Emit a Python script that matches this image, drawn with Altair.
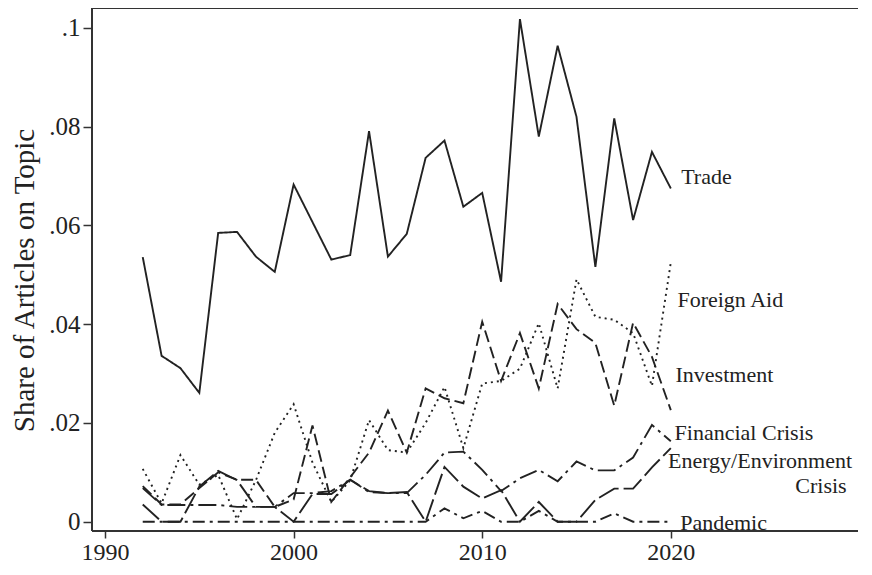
import altair as alt
import pandas as pd

years = list(range(1992, 2021))

trade = [0.0536, 0.0336, 0.0311, 0.0261, 0.0585, 0.0587, 0.0537, 0.0506, 0.0683, 0.0607,
         0.0531, 0.0540, 0.0791, 0.0537, 0.0583, 0.0737, 0.0772, 0.0638, 0.0666, 0.0486,
         0.1018, 0.0780, 0.0964, 0.0820, 0.0516, 0.0817, 0.0611, 0.0749, 0.0675]
foreign_aid = [0.0107, 0.0037, 0.0135, 0.0075, 0.0095, 0.0005, 0.0084, 0.0180, 0.0238, 0.0120,
               0.0040, 0.0084, 0.0206, 0.0145, 0.0140, 0.0200, 0.0273, 0.0149, 0.0280, 0.0285,
               0.0310, 0.0402, 0.0270, 0.0491, 0.0415, 0.0409, 0.0382, 0.0275, 0.0525]
investment = [0.0072, 0.0035, 0.0035, 0.0068, 0.0100, 0.0085, 0.0085, 0.0030, 0.0045, 0.0195,
              0.0040, 0.0090, 0.0140, 0.0225, 0.0140, 0.0270, 0.0250, 0.0240, 0.0405, 0.0285,
              0.0382, 0.0270, 0.0441, 0.0390, 0.0362, 0.0235, 0.0403, 0.0334, 0.0226]
financial = [0.0068, 0.0034, 0.0034, 0.0034, 0.0034, 0.0030, 0.0030, 0.0030, 0.0058, 0.0058,
             0.0062, 0.0085, 0.0060, 0.0058, 0.0058, 0.0095, 0.0140, 0.0142, 0.0105, 0.0062,
             0.0088, 0.0105, 0.0082, 0.0122, 0.0104, 0.0104, 0.0130, 0.0196, 0.0163]
energy = [0.0035, 0.0000, 0.0000, 0.0071, 0.0103, 0.0084, 0.0030, 0.0030, 0.0000, 0.0056,
          0.0056, 0.0085, 0.0062, 0.0058, 0.0060, 0.0000, 0.0111, 0.0071, 0.0047, 0.0064,
          0.0000, 0.0040, 0.0000, 0.0000, 0.0044, 0.0067, 0.0067, 0.0110, 0.0149]
pandemic = [0.0, 0.0, 0.0, 0.0, 0.0, 0.0, 0.0, 0.0, 0.0, 0.0,
            0.0, 0.0, 0.0, 0.0, 0.0, 0.0, 0.0027, 0.0007, 0.0022, 0.0,
            0.0, 0.0022, 0.0, 0.0, 0.0, 0.0017, 0.0, 0.0, 0.0]

series_names = ["Trade", "Foreign Aid", "Investment", "Financial Crisis",
                "Energy/Environment Crisis", "Pandemic"]
series_values = [trade, foreign_aid, investment, financial, energy, pandemic]
dash_patterns = [[1, 0], [2, 4], [12, 5], [18, 5, 3, 5], [22, 5], [12, 5, 3, 5]]

label_text = ["Trade", "Foreign Aid", "Investment", "Financial Crisis",
              "Energy/Environment", "Crisis", "Pandemic"]
label_year = [2020.55, 2020.35, 2020.25, 2020.2, 2019.85, 2026.6, 2020.5]
label_value = [0.0698, 0.0449, 0.0297, 0.0179, 0.0122, 0.0073, -0.0003]

x_ticks = [1990, 2000, 2010, 2020]
y_ticks = [0, 0.02, 0.04, 0.06, 0.08, 0.1]

rows = []
for name, vals in zip(series_names, series_values):
    for yr, v in zip(years, vals):
        rows.append({"year": yr, "share": v, "topic": name})
df = pd.DataFrame(rows)
labels_df = pd.DataFrame({"text": label_text, "year": label_year, "share": label_value})
frame_df = pd.DataFrame({"edge": ["frame"]})

W, H = 766, 523
FONT = "Liberation Serif"
INK = "#222222"
FRAME = "#333333"

xscale = alt.Scale(domain=[1989.31, 1989.31 + W / 18.86], nice=False, zero=False)
yscale = alt.Scale(domain=[-0.00188, 0.10405], nice=False, zero=False)

lines = alt.Chart(df).mark_line(strokeWidth=1.9, strokeCap="butt", clip=False).encode(
    x=alt.X("year:Q", scale=xscale,
            axis=alt.Axis(values=x_ticks, format="d", title=None, grid=False, domain=False,
                          tickSize=7, labelPadding=2, labelFontSize=24)),
    y=alt.Y("share:Q", scale=yscale,
            axis=alt.Axis(values=y_ticks, grid=False, domain=False, tickSize=9, labelPadding=3,
                          labelFontSize=25,
                          labelExpr="datum.value == 0 ? '0' : replace(format(datum.value, '.2~f'), /^0/, '')",
                          title="Share of Articles on Topic", titleFontSize=29,
                          titleX=-68, titleY=272, titleBaseline="middle",
                          titleAlign="center", titleAngle=270)),
    color=alt.Color("topic:N", scale=alt.Scale(domain=series_names, range=[INK] * 6), legend=None),
    strokeDash=alt.StrokeDash("topic:N", scale=alt.Scale(domain=series_names, range=dash_patterns),
                              legend=None),
    detail="topic:N",
)

texts = alt.Chart(labels_df).mark_text(align="left", baseline="middle", font=FONT,
                                        fontSize=22, color=INK).encode(
    x=alt.X("year:Q", scale=xscale),
    y=alt.Y("share:Q", scale=yscale),
    text="text:N",
)

top_edge = alt.Chart(frame_df).mark_rule(color=FRAME, strokeWidth=2).encode(
    x=alt.value(0), x2=alt.value(W), y=alt.value(0), y2=alt.value(0)
)
bottom_edge = alt.Chart(frame_df).mark_rule(color=FRAME, strokeWidth=2).encode(
    x=alt.value(0), x2=alt.value(W), y=alt.value(H), y2=alt.value(H)
)
left_edge = alt.Chart(frame_df).mark_rule(color=FRAME, strokeWidth=2).encode(
    x=alt.value(0), x2=alt.value(0), y=alt.value(0), y2=alt.value(H)
)

chart = alt.layer(lines, texts, top_edge, bottom_edge, left_edge).properties(
    width=W, height=H,
    autosize=alt.AutoSizeParams(type="none"),
    padding={"left": 84, "top": 0, "right": 0, "bottom": 32},
).configure_view(stroke=None).configure_axis(
    labelFont=FONT, titleFont=FONT, labelColor=INK, titleColor=INK,
    titleFontWeight="normal", domain=False,
    tickColor=FRAME, tickWidth=1.5,
)

chart.save("out.html", embed_options={"renderer": "svg", "actions": False})
